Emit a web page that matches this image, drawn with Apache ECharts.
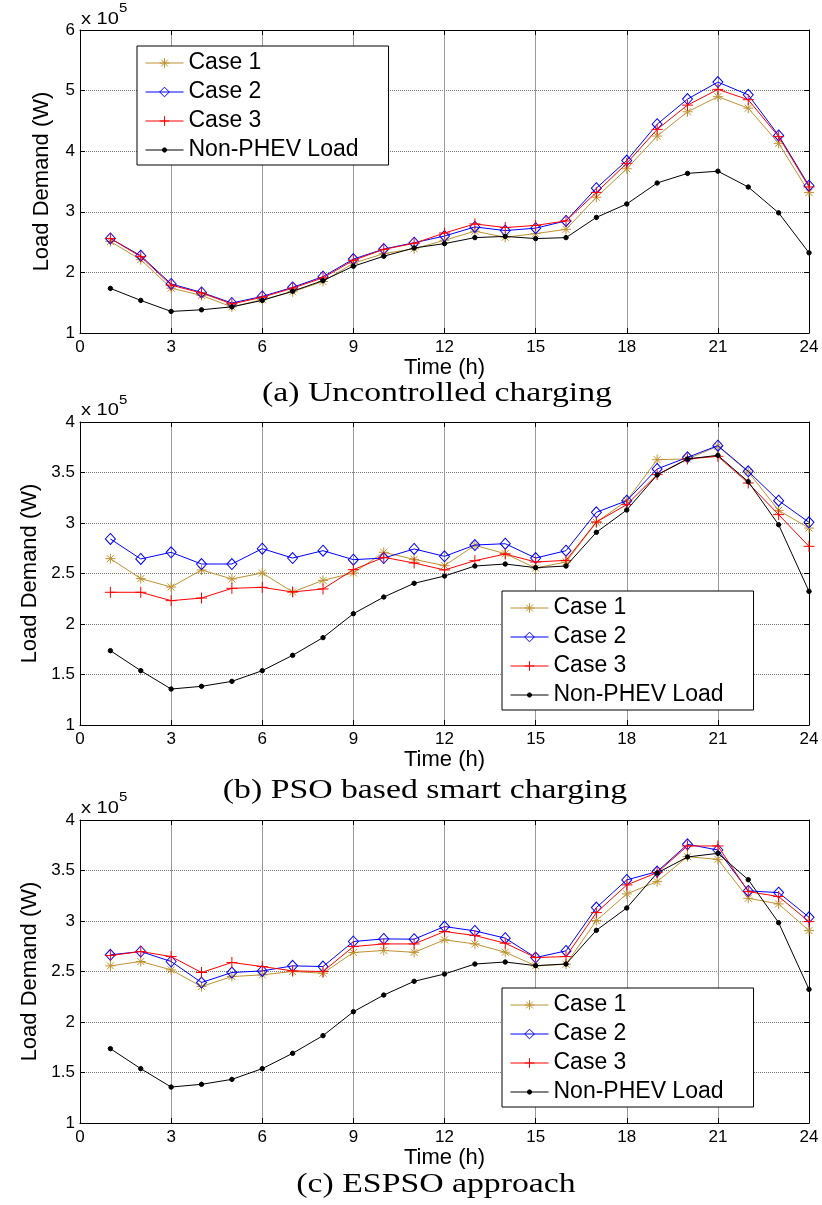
<!DOCTYPE html>
<html><head><meta charset="utf-8">
<script src="https://cdn.jsdelivr.net/npm/echarts@6/dist/echarts.min.js"></script>
<style>html,body{margin:0;padding:0;background:#fff}#c{width:822px;height:1205px}</style>
</head><body><div id="c"></div>
<script>
// ---- data (load demand in units of 1e5 W) ----
const hours = [1,2,3,4,5,6,7,8,9,10,11,12,13,14,15,16,17,18,19,20,21,22,23,24];
const xTicks = {min: 0, max: 24, interval: 3};
const seriesNames = ['Case 1', 'Case 2', 'Case 3', 'Non-PHEV Load'];
const captions = ['(a) Uncontrolled charging', '(b) PSO based smart charging', '(c) ESPSO approach'];

const nonPhev = [1.736,1.538,1.356,1.383,1.432,1.538,1.690,1.865,2.102,2.267,2.403,2.475,2.574,2.594,2.558,2.574,2.908,3.129,3.475,3.634,3.670,3.409,2.983,2.323];

const case1A = [2.51,2.21,1.74,1.62,1.43,1.55,1.68,1.85,2.15,2.31,2.39,2.53,2.68,2.58,2.64,2.71,3.24,3.71,4.25,4.65,4.90,4.71,4.13,3.32];
const case2A = [2.56,2.275,1.81,1.67,1.495,1.604,1.753,1.93,2.22,2.385,2.49,2.60,2.75,2.69,2.73,2.85,3.39,3.846,4.445,4.86,5.14,4.93,4.26,3.43];
const case3A = [2.56,2.26,1.79,1.66,1.48,1.59,1.74,1.91,2.20,2.38,2.48,2.65,2.80,2.74,2.775,2.85,3.32,3.80,4.36,4.76,5.02,4.85,4.24,3.41];

const case1B = [2.647,2.449,2.366,2.535,2.446,2.505,2.317,2.432,2.505,2.71,2.64,2.578,2.779,2.696,2.554,2.614,3.007,3.221,3.627,3.634,3.76,3.505,3.125,2.95];
const case2B = [2.842,2.644,2.71,2.594,2.594,2.746,2.653,2.726,2.637,2.653,2.743,2.670,2.782,2.795,2.653,2.726,3.106,3.221,3.535,3.65,3.766,3.512,3.221,3.007];
const case3B = [2.314,2.314,2.231,2.257,2.353,2.363,2.317,2.347,2.538,2.66,2.604,2.535,2.627,2.693,2.614,2.630,3.01,3.182,3.479,3.634,3.66,3.396,3.083,2.769];

const case1C = [2.556,2.599,2.516,2.351,2.45,2.467,2.5,2.483,2.688,2.708,2.69,2.813,2.773,2.691,2.556,2.572,3.004,3.268,3.39,3.637,3.61,3.225,3.169,2.905];
const case2C = [2.665,2.698,2.599,2.391,2.49,2.506,2.556,2.549,2.797,2.823,2.82,2.945,2.902,2.83,2.638,2.704,3.133,3.407,3.489,3.759,3.703,3.298,3.281,3.037];
const case3C = [2.658,2.698,2.648,2.49,2.589,2.549,2.506,2.5,2.747,2.773,2.773,2.896,2.856,2.78,2.638,2.648,3.083,3.357,3.479,3.743,3.743,3.291,3.242,2.994];

const yScales = [{min: 1, max: 6, interval: 1}, {min: 1, max: 4, interval: 0.5}, {min: 1, max: 4, interval: 0.5}];
const panels = [
  [case1A, case2A, case3A, nonPhev],
  [case1B, case2B, case3B, nonPhev],
  [case1C, case2C, case3C, nonPhev]
];

// ---- styling / layout ----
const SANS = "'Liberation Sans', Arial, Helvetica, sans-serif";
const SERIF = "'Liberation Serif', 'Times New Roman', serif";
const gridTops = [30, 422, 820];
const GRID_LEFT = 80, GRID_W = 729, GRID_H = 303;
const legendPos = [[137, 46], [502, 591], [502, 988]];

const STAR = 'path://M5 0L5 10M0 5L10 5M1.5 1.5L8.5 8.5M1.5 8.5L8.5 1.5';
const PLUS = 'path://M5 0L5 10M0 5L10 5';
const DIAM = 'path://M5 0L10 5L5 10L0 5Z';
const DOT  = 'path://M0 0M8 8M4 2.2L5.3 2.7L5.8 4L5.3 5.3L4 5.8L2.7 5.3L2.2 4L2.7 2.7Z';
const sty = {
  'Case 1': {symbol: STAR, size: 10, color: '#BE9232', fill: '#BE9232'},
  'Case 2': {symbol: DIAM, size: [10, 11], color: '#0000FF', fill: 'none'},
  'Case 3': {symbol: PLUS, size: 11, color: '#FF0000', fill: '#FF0000'},
  'Non-PHEV Load': {symbol: DOT, size: 10, color: '#000000', fill: '#000000'}
};

const grid = [], xAxis = [], yAxis = [], series = [], legend = [], graphic = [];
const tickStyle = {show: true, inside: true, length: 5, lineStyle: {color: '#000', width: 1}};
const axisLine = {show: true, onZero: false, lineStyle: {color: '#000', width: 1}};

for (let g = 0; g < 3; g++) {
  grid.push({left: GRID_LEFT, top: gridTops[g], width: GRID_W, height: GRID_H, containLabel: false});
  xAxis.push({
    type: 'value', gridIndex: g, min: xTicks.min, max: xTicks.max, interval: xTicks.interval,
    position: 'bottom', axisLine, axisTick: tickStyle,
    axisLabel: {margin: 6, color: '#000', fontFamily: SANS, fontSize: 17},
    splitLine: {show: true, lineStyle: {color: '#9a9a9a', width: 1, type: 'solid'}},
    name: 'Time (h)', nameLocation: 'middle', nameGap: 24,
    nameTextStyle: {color: '#000', fontFamily: SANS, fontSize: 22}
  });
  yAxis.push({
    type: 'value', gridIndex: g, min: yScales[g].min, max: yScales[g].max, interval: yScales[g].interval,
    position: 'left', axisLine, axisTick: tickStyle,
    axisLabel: {margin: 5, color: '#000', fontFamily: SANS, fontSize: 17},
    splitLine: {show: true, lineStyle: {color: '#777', width: 1, type: 'dotted'}},
    name: 'Load Demand (W)', nameLocation: 'middle', nameGap: 27,
    nameTextStyle: {color: '#000', fontFamily: SANS, fontSize: 22}
  });
}
for (let g = 0; g < 3; g++) {
  xAxis.push({type: 'value', gridIndex: g, min: xTicks.min, max: xTicks.max, interval: xTicks.interval,
    position: 'top', axisLine, axisTick: tickStyle, axisLabel: {show: false}, splitLine: {show: false}});
  yAxis.push({type: 'value', gridIndex: g, min: yScales[g].min, max: yScales[g].max, interval: yScales[g].interval,
    position: 'right', axisLine, axisTick: tickStyle, axisLabel: {show: false}, splitLine: {show: false}});
}

for (let g = 0; g < 3; g++) {
  panels[g].forEach((vals, k) => {
    const name = seriesNames[k], s = sty[name];
    series.push({
      type: 'line', name, xAxisIndex: g, yAxisIndex: g,
      data: hours.map((h, i) => [h, vals[i]]),
      symbol: s.symbol, symbolSize: s.size, showAllSymbol: true,
      lineStyle: {color: s.color, width: 1},
      itemStyle: {color: s.fill, borderColor: s.color, borderWidth: 1},
      emphasis: {disabled: true}, silent: true, animation: false, z: 3 + k
    });
  });
  legend.push({
    left: legendPos[g][0], top: legendPos[g][1], orient: 'vertical', selectedMode: false,
    data: seriesNames.map(n => ({name: n, itemStyle: {color: sty[n].fill, borderColor: sty[n].color, borderWidth: 1}, lineStyle: {color: sty[n].color, width: 1}})),
    itemWidth: 38, itemHeight: 12, itemGap: 5, padding: [5, 30, 3, 8],
    backgroundColor: '#fff', borderColor: '#000', borderWidth: 1, borderRadius: 0,
    textStyle: {fontFamily: SANS, fontSize: 23, color: '#000', lineHeight: 24},
    lineStyle: {width: 1}, itemStyle: {borderWidth: 1}, z: 10
  });
}

const capPos = [[437, 394], [425, 791], [436, 1185]];
const expPos = [[19.5, 9], [411, 401], [809, 798]];
for (let g = 0; g < 3; g++) {
  graphic.push({type: 'text', x: capPos[g][0], y: capPos[g][1], scaleX: 1.25, silent: true,
    style: {text: captions[g], font: '27px ' + SERIF, fill: '#000', align: 'center', verticalAlign: 'middle'}});
  graphic.push({type: 'text', x: 81, y: expPos[g][0], scaleX: 1.25, silent: true,
    style: {text: 'x 10', font: '16px ' + SANS, fill: '#000', align: 'left', verticalAlign: 'middle'}});
  graphic.push({type: 'text', x: 119, y: expPos[g][1], scaleX: 1.25, silent: true,
    style: {text: '5', font: '12px ' + SANS, fill: '#000', align: 'left', verticalAlign: 'middle'}});
}

const chart = echarts.init(document.getElementById('c'), null, {renderer: 'canvas'});
chart.setOption({
  backgroundColor: '#fff', animation: false,
  grid, xAxis, yAxis, series, legend, graphic
});
</script>
</body></html>
